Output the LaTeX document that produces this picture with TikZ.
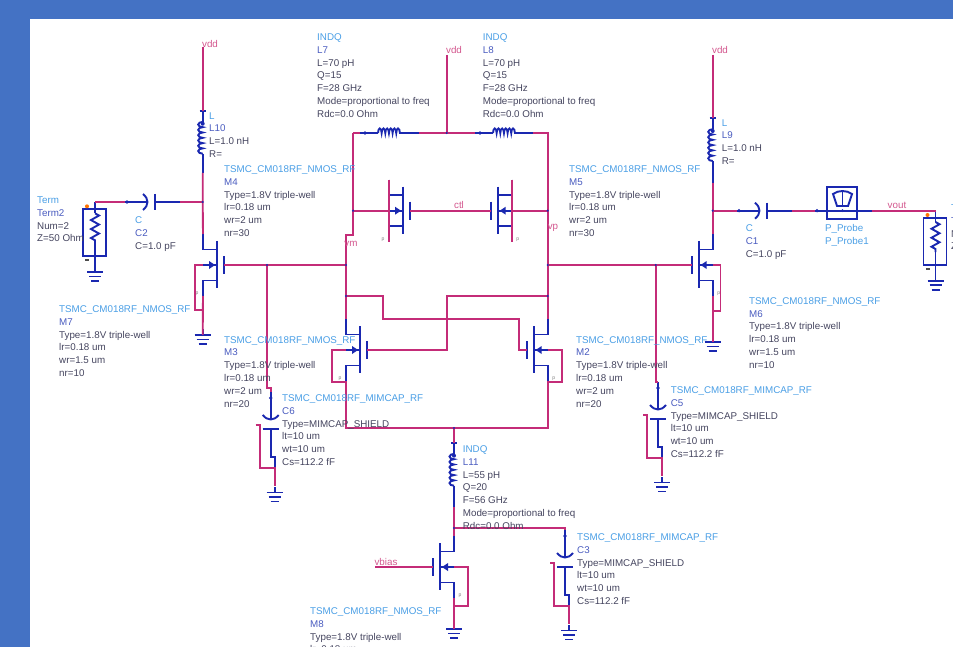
\documentclass[tikz,border=0pt]{standalone}
\usepackage{fontspec}
\setmainfont{Liberation Sans}
\usetikzlibrary{decorations.pathmorphing,decorations.pathreplacing}
\definecolor{wirecol}{HTML}{C42C78}
\definecolor{compcol}{HTML}{1A28B0}
\definecolor{typecol}{HTML}{4A9FE6}
\definecolor{namecol}{HTML}{4A5CC0}
\definecolor{parcol}{HTML}{45455F}
\definecolor{netcol}{HTML}{D4588F}
\definecolor{backcol}{HTML}{4472C4}
\tikzset{
  wire/.style={draw=wirecol,line width=1.9pt},
  comp/.style={draw=compcol,line width=1.9pt},
  coilseg/.style={comp,decorate,decoration={bumps,segment length=#1,amplitude=4.5pt}},
  zigseg/.style={comp,decorate,decoration={zigzag,segment length=9pt,amplitude=4pt}},
  lbl/.style={font=\fontsize{9.8}{12.8}\selectfont,text=parcol,align=left,inner sep=0pt,anchor=north west},
  netlbl/.style={font=\fontsize{9.8}{12}\selectfont,text=netcol,inner sep=0pt},
  pinlbl/.style={font=\fontsize{5}{5}\selectfont,text=gray,inner sep=0pt}
}
\begin{document}
\begin{tikzpicture}[x=1pt,y=-1pt]
    \useasboundingbox (0,0) rectangle (953,647);
    \clip (0,0) rectangle (953,647);
    \fill[backcol] (0,0) rectangle (953,647);
    \fill[white] (30,19) rectangle (953,647);

    % Label lines
    \def\ty#1{\textcolor{typecol}{#1}}
    \def\nm#1{\textcolor{namecol}{#1}}
    \def\nmosType{\ty{TSMC\_CM018RF\_NMOS\_RF}}
    \def\mimType{\ty{TSMC\_CM018RF\_MIMCAP\_RF}}
    \def\mimPar{Type=MIMCAP\_SHIELD\\lt=10 um\\wt=10 um\\Cs=112.2 fF}

    % Symbols
    \def\nmos#1#2#3#4{
      \begin{scope}[shift={(#2,#3)},xscale=#4]
        \coordinate (#1d) at (14,-31);
        \coordinate (#1s) at (14,31);
        \coordinate (#1g) at (-7,0);
        \coordinate (#1b) at (14,0);
        \draw[comp] (#1d) -- (14,-15.5) -- (0,-15.5);
        \draw[comp] (0,-24) -- (0,23);
        \draw[comp] (-7,-9) -- (-7,9);
        \draw[comp] (0,15.5) -- (14,15.5) -- (#1s);
        \draw[comp] (0,0) -- (#1b);
        \fill[compcol] (2,0) -- (8,-4) -- (8,4) -- cycle;
        \node[pinlbl] (#1p) at (20,28.5) {p};
      \end{scope}}
    \def\gnd#1#2#3{
      \begin{scope}[shift={(#2,#3)}]
        \coordinate (#1) at (0,0);
        \draw[comp] (#1) -- (0,-6);
        \draw[comp] (-8,0) -- (8,0);
        \draw[comp] (-6,4.5) -- (6,4.5);
        \draw[comp] (-4,9) -- (4,9);
      \end{scope}}
    \def\vind#1#2#3#4{
      \coordinate (#1a) at (#2,#3);
      \coordinate (#1b) at (#2,#4);
      \draw[comp] (#1a) -- ++(0,11);
      \draw[comp] (#2-3,#3) -- (#2+3,#3);
      \draw[coilseg=10.6pt] (#2,#3+43) -- (#2,#3+11);
      \draw[comp] (#2,#3+43) -- (#1b);
      \fill[compcol] (#2,#3+13) circle (2);}
    \def\hind#1#2#3#4{
      \coordinate (#1a) at (#2,#3);
      \coordinate (#1b) at (#4,#3);
      \draw[comp] (#1a) -- ++(18,0);
      \draw[coilseg=7.3pt] (#2+18,#3) -- (#2+40,#3);
      \draw[comp] (#2+40,#3) -- (#1b);
      \fill[compcol] (#2+5,#3) circle (1.8);}
    \def\scap#1#2#3{
      \begin{scope}[shift={(#2,#3)}]
        \coordinate (#1a) at (-23,0);
        \coordinate (#1b) at (32,0);
        \draw[comp] (#1a) -- (0,0);
        \draw[comp] (-5,-8) .. controls (1,-3) and (1,3) .. (-5,8);
        \draw[comp] (7,-8) -- (7,8);
        \draw[comp] (7,0) -- (#1b);
        \fill[compcol] (-21,0) circle (1.8);
      \end{scope}}
    \def\mimcap#1#2#3{
      \begin{scope}[shift={(#2,#3)}]
        \coordinate (#1t) at (0,-28);
        \coordinate (#1j) at (4,48);
        \draw[comp] (#1t) -- (0,-1);
        \fill[compcol] (0,-22) circle (1.8);
        \draw[comp] (-8,-5) .. controls (-3,1) and (3,1) .. (8,-5);
        \draw[comp] (-8,9) -- (8,9);
        \draw[comp] (0,9) -- (0,37) -- (4,37) -- (#1j);
        \draw[wire] (-15,5) -- (-11,5) -- (-11,48) -- (#1j) -- (4,66);
        \gnd{#1g}{4}{72.5}
      \end{scope}}
    \def\term#1#2#3{
      \begin{scope}[shift={(#2,#3)}]
        \coordinate (#1t) at (0,-7.3);
        \draw[comp] (#1t) -- (0,4);
        \draw[zigseg] (0,4) -- (0,34);
        \draw[comp] (0,34) -- (0,47);
        \draw[comp] (-12,0) rectangle (11,47);
        \fill[orange!90!red] (-8,-3) circle (2);
        \fill[black!70] (-10,50) rectangle (-6,51.5);
        \draw[comp] (0,47) -- (0,57);
        \gnd{#1g}{0}{62.7}
      \end{scope}}

    % Transistors
    \nmos{m4}{217}{265}{-1}
    \nmos{m6}{698.7}{265}{1}
    \nmos{m3}{360}{350}{-1}
    \nmos{m2}{533.7}{350}{1}
    \nmos{m8}{440}{567}{1}
    \nmos{swa}{403}{210.7}{-1}
    \nmos{swb}{497.7}{210.7}{1}

    % Inductors
    \vind{l10}{202.7}{110.7}{173}
    \vind{l9}{712.7}{118}{182.7}
    \vind{l11}{454}{442.7}{507}
    \hind{l7}{360}{133}{419}
    \hind{l8}{475}{133}{533}

    % Capacitors and ports
    \scap{c2}{148}{202}
    \scap{c1}{760}{210.7}
    \mimcap{c6}{270.7}{420}
    \mimcap{c5}{658}{410}
    \mimcap{c3}{565}{558}
    \term{t2}{95}{209.3}
    \term{t1}{935.5}{218}
    \gnd{g4}{202.7}{335}
    \gnd{g6}{712.7}{342}
    \gnd{g8}{454}{629}

    % Probe
    \coordinate (pra) at (815,210.7);
    \coordinate (prb) at (871.7,210.7);
    \draw[comp] (pra) -- (prb);
    \fill[compcol] (817,210.7) circle (1.8);
    \draw[comp] (826.7,186.7) rectangle (856.7,219);
    \draw[comp] (833,194) .. controls (838,190) and (847,190) .. (852,194) -- (848,206) -- (837,206) -- cycle;
    \draw[compcol,line width=0.9pt] (842.5,191) -- (842.5,206);
    \fill[compcol] (842.5,210.7) circle (1.5);

    % Junctions
    \coordinate (vddl) at (202.7,47);
    \coordinate (vddm) at (446.7,55);
    \coordinate (vddr) at (712.7,55);
    \coordinate (jc2) at (202.7,202);
    \coordinate (jc1) at (712.7,210.7);
    \coordinate (jterm) at (95,202);
    \coordinate (jga) at (267,265);
    \coordinate (jgb) at (655.7,265);
    \coordinate (jvm) at (346,265);
    \coordinate (jvp) at (547.7,265);
    \coordinate (jxa) at (346,296);
    \coordinate (jxb) at (547.7,296);
    \coordinate (jtop) at (446.7,133);
    \coordinate (jsa) at (353,210.7);
    \coordinate (jsb) at (547.7,210.7);
    \coordinate (jbot) at (454,428);
    \coordinate (jtail) at (454,528);
    \coordinate (vbias) at (375,567);
    \coordinate (jout) at (935.5,210.7);

    % Supply branches
    \draw[wire] (vddl) -- (l10a);
    \draw[wire] (vddr) -- (l9a);
    \draw[wire] (vddm) -- (jtop);
    \draw[wire] (l10b) -- (jc2) -- (m4d);
    \draw[wire] (l9b) -- (jc1) -- (m6d);

    % Input and output
    \draw[wire] (jc2) -- (c2b);
    \draw[wire] (c2a) -- (jterm);
    \draw[comp] (jterm) -- (t2t);
    \draw[wire] (jc1) -- (c1a);
    \draw[wire] (c1b) -- (pra);
    \draw[wire] (prb) -- (jout);

    % Tank
    \draw[wire] (353,133) -- (l7a);
    \draw[wire] (l7b) -- (jtop) -- (l8a);
    \draw[wire] (l8b) -- (547.7,133) -- (jsb) -- (jvp) -- (jxb) -- (m2d);
    \draw[wire] (353,133) -- (jsa) -- (353,235) -- (346,235) -- (jvm) -- (jxa) -- (m3d);
    \draw[wire] (swad) -- (swas);
    \draw[wire] (swbd) -- (swbs);
    \draw[wire] (jsa) -- (swab);
    \draw[wire] (swbb) -- (jsb);
    \draw[wire] (swag) -- (swbg);

    % Buffers
    \draw[wire] (m4g) -- (jga) -- (jvm);
    \draw[wire] (m6g) -- (jgb) -- (jvp);
    \draw[wire] (m4b) -- (195,265) -- (195,310) -- (202.7,310);
    \draw[wire] (m4s) -- (g4);
    \draw[wire] (m6b) -- (720.5,265) -- (720.5,311) -- (712.7,311);
    \draw[wire] (m6s) -- (g6);
    \draw[wire] (jga) -- (267,388) -- (270.7,388) -- (c6t);
    \draw[wire] (jgb) -- (655.7,382) -- (c5t);

    % Cross coupled pair
    \draw[wire] (jxa) -- (382.7,296) -- (382.7,319) -- (519,319) -- (519,350) -- (m2g);
    \draw[wire] (jxb) -- (446.7,296) -- (446.7,350) -- (m3g);
    \draw[wire] (m3b) -- (332,350) -- (332,382) -- (346,382);
    \draw[wire] (m2b) -- (561.7,350) -- (561.7,382) -- (547.7,382);
    \draw[wire] (m3s) -- (346,428) -- (jbot) -- (547.7,428) -- (m2s);

    % Tail
    \draw[wire] (jbot) -- (l11a);
    \draw[wire] (l11b) -- (jtail) -- (m8d);
    \draw[wire] (jtail) -- (565,528) -- (c3t);
    \draw[wire] (vbias) -- (m8g);
    \draw[wire] (m8b) -- (468,567) -- (468,606) -- (454,606);
    \draw[wire] (m8s) -- (g8);

    % Junction dots
    \foreach \j in {jc2,jc1,jga,jgb,jvm,jvp,jxa,jxb,jtop,jsa,jsb,jbot,jtail}
      \fill[compcol] (\j) circle (1.2);

    % Net names
    \node[netlbl] (lblvddl) at (210,44) {vdd};
    \node[netlbl] (lblvddm) at (454,50) {vdd};
    \node[netlbl] (lblvddr) at (720,50) {vdd};
    \node[netlbl] (lblctl) at (459,205) {ctl};
    \node[netlbl] (lblvm) at (351,244) {vm};
    \node[netlbl] (lblvp) at (553,228) {vp};
    \node[netlbl] (lblvout) at (897,205.5) {vout};
    \node[netlbl] (lblvbias) at (386,562) {vbias};

    % Component parameters
    \node[lbl] (parl7) at (317,33.5) {\ty{INDQ}\\\nm{L7}\\L=70 pH\\Q=15\\F=28 GHz\\Mode=proportional to freq\\Rdc=0.0 Ohm};
    \node[lbl] (parl8) at (482.7,33.5) {\ty{INDQ}\\\nm{L8}\\L=70 pH\\Q=15\\F=28 GHz\\Mode=proportional to freq\\Rdc=0.0 Ohm};
    \node[lbl] (parl10) at (209,112.2) {\ty{L}\\\nm{L10}\\L=1.0 nH\\R=};
    \node[lbl] (parl9) at (721.7,119.2) {\ty{L}\\\nm{L9}\\L=1.0 nH\\R=};
    \node[lbl] (parm4) at (224,165.5) {\nmosType\\\nm{M4}\\Type=1.8V triple-well\\lr=0.18 um\\wr=2 um\\nr=30};
    \node[lbl] (parm5) at (569,165.5) {\nmosType\\\nm{M5}\\Type=1.8V triple-well\\lr=0.18 um\\wr=2 um\\nr=30};
    \node[lbl] (part2) at (37,196.5) {\ty{Term}\\\nm{Term2}\\Num=2\\Z=50 Ohm};
    \node[lbl] (part1) at (951,204.5) {\ty{Term}\\\nm{Term1}\\Num=1\\Z=50 Ohm};
    \node[lbl] (parc2) at (135,216.5) {\ty{C}\\\nm{C2}\\C=1.0 pF};
    \node[lbl] (parc1) at (745.7,224.5) {\ty{C}\\\nm{C1}\\C=1.0 pF};
    \node[lbl] (parpr) at (825,224.5) {\ty{P\_Probe}\\\ty{P\_Probe1}};
    \node[lbl] (parm7) at (59,305.5) {\nmosType\\\nm{M7}\\Type=1.8V triple-well\\lr=0.18 um\\wr=1.5 um\\nr=10};
    \node[lbl] (parm6) at (749,297.2) {\nmosType\\\nm{M6}\\Type=1.8V triple-well\\lr=0.18 um\\wr=1.5 um\\nr=10};
    \node[lbl] (parm3) at (224,336) {\nmosType\\\nm{M3}\\Type=1.8V triple-well\\lr=0.18 um\\wr=2 um\\nr=20};
    \node[lbl] (parm2) at (576,336) {\nmosType\\\nm{M2}\\Type=1.8V triple-well\\lr=0.18 um\\wr=2 um\\nr=20};
    \node[lbl] (parc6) at (282,394.5) {\mimType\\\nm{C6}\\\mimPar};
    \node[lbl] (parc5) at (670.7,386.5) {\mimType\\\nm{C5}\\\mimPar};
    \node[lbl] (parc3) at (577,533.5) {\mimType\\\nm{C3}\\\mimPar};
    \node[lbl] (parl11) at (462.7,445.5) {\ty{INDQ}\\\nm{L11}\\L=55 pH\\Q=20\\F=56 GHz\\Mode=proportional to freq\\Rdc=0.0 Ohm};
    \node[lbl] (parm8) at (310,607.5) {\nmosType\\\nm{M8}\\Type=1.8V triple-well\\lr=0.18 um};
\end{tikzpicture}
\end{document}
